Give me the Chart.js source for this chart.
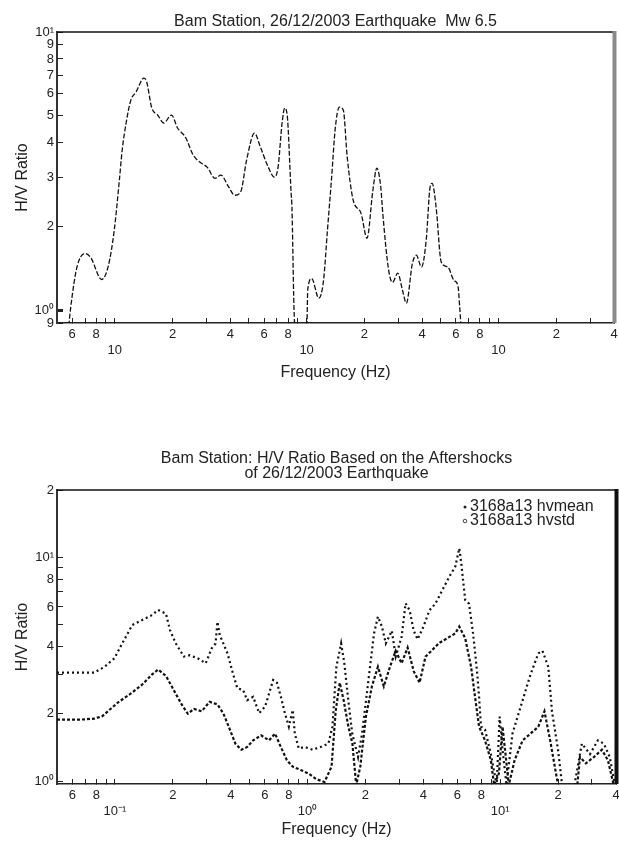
<!DOCTYPE html>
<html>
<head>
<meta charset="utf-8">
<script src="https://cdn.jsdelivr.net/npm/chart.js@4.4.1/dist/chart.umd.min.js"></script>
<style>
  html, body { margin: 0; padding: 0; background: #fff; }
  canvas { position: absolute; left: 0; }
  #topChart { top: 0; }
  #bottomChart { top: 420px; }
</style>
</head>
<body>
<canvas id="topChart" width="619" height="400"></canvas>
<canvas id="bottomChart" width="619" height="423"></canvas>
<script>
// main shock H/V curve (Hz, ratio)
const topFreq = [0.0576, 0.059, 0.0634, 0.0697, 0.0748, 0.0855, 0.0927, 0.0994, 0.1057, 0.1093,
    0.1146, 0.1213, 0.129, 0.142, 0.1467, 0.156, 0.1675, 0.18, 0.1977, 0.2123,
    0.2334, 0.2566, 0.282, 0.303, 0.333, 0.357, 0.393, 0.4217, 0.453, 0.4864,
    0.535, 0.574, 0.631, 0.678, 0.71, 0.745, 0.769, 0.792, 0.83, 0.8385,
    0.859, 0.871, 0.936, 1.004, 1.013, 1.063, 1.157, 1.225, 1.284, 1.347,
    1.412, 1.481, 1.553, 1.628, 1.748, 1.922, 2.064, 2.215, 2.323, 2.435,
    2.494, 2.677, 2.807, 2.985, 3.16, 3.31, 3.56, 3.73, 3.97, 4.2,
    4.4, 4.51, 4.73, 5.03, 5.45, 5.86, 6.14, 6.28, 6.37];
const topRatio = [0.88, 1.03, 1.42, 1.6, 1.55, 1.29, 1.45, 1.94, 2.94, 3.76,
    4.71, 5.69, 6.08, 6.83, 6.61, 5.33, 5.03, 4.71, 5.03, 4.52,
    4.19, 3.61, 3.38, 3.27, 2.98, 3.06, 2.77, 2.59, 2.66, 3.46,
    4.33, 3.86, 3.27, 3.01, 3.27, 4.71, 5.33, 5.03, 2.64, 2.35,
    1.025, 0.85, 0.8, 0.9, 1.18, 1.3, 1.105, 1.28, 1.94, 2.94,
    4.55, 5.37, 5.24, 3.55, 2.49, 2.23, 1.815, 2.7, 3.24, 2.77,
    2.23, 1.39, 1.26, 1.36, 1.18, 1.06, 1.476, 1.577, 1.43, 1.786,
    2.77, 2.86, 2.35, 1.49, 1.43, 1.28, 1.23, 1.025, 0.88];

// aftershocks: hvmean (lower curve)
const meanFreq = [0.05, 0.065, 0.078, 0.086, 0.0948, 0.104, 0.12, 0.1386, 0.156, 0.1675,
    0.184, 0.202, 0.222, 0.239, 0.257, 0.282, 0.31, 0.341, 0.366, 0.393,
    0.422, 0.453, 0.486, 0.522, 0.574, 0.631, 0.678, 0.727, 0.781, 0.838,
    0.922, 1.013, 1.11, 1.225, 1.333, 1.4, 1.47, 1.54, 1.63, 1.71,
    1.79, 1.88, 2.01, 2.16, 2.32, 2.49, 2.68, 2.87, 3.08, 3.31,
    3.56, 3.82, 4.1, 4.4, 4.84, 5.32, 5.85, 6.14, 6.59, 7.07,
    7.41, 7.78, 8.35, 8.96, 9.31, 9.86, 10.3, 11.1, 11.9, 13.1,
    14.4, 15.8, 17.0, 18.2, 20.0, 21.5, 25.0, 26.0, 27.9, 30.7,
    33.8, 36.3, 38.9];
const meanRatio = [1.88, 1.88, 1.9, 1.95, 2.1, 2.25, 2.45, 2.7, 3.0, 3.15,
    2.95, 2.55, 2.2, 2.0, 2.1, 2.05, 2.26, 2.2, 2.0, 1.72,
    1.47, 1.38, 1.42, 1.52, 1.6, 1.52, 1.63, 1.42, 1.24, 1.16,
    1.12, 1.08, 1.02, 0.99, 1.16, 2.05, 2.75, 2.3, 1.75, 1.47,
    0.96, 1.16, 1.94, 2.65, 3.24, 2.65, 3.24, 3.82, 3.36, 3.95,
    3.1, 2.75, 3.6, 3.82, 4.15, 4.35, 4.57, 4.9, 4.35, 3.24,
    2.38, 1.75, 1.52, 1.24, 0.96, 1.08, 1.75, 0.96, 1.24, 1.52,
    1.63, 1.75, 2.05, 1.52, 0.96, 0.9, 0.9, 1.28, 1.2, 1.28,
    1.38, 1.24, 0.96];

// aftershocks: hvstd (upper curve)
const stdFreq = [0.05, 0.065, 0.078, 0.0883, 0.0994, 0.109, 0.123, 0.1386, 0.156, 0.1675,
    0.184, 0.193, 0.207, 0.228, 0.245, 0.269, 0.296, 0.318, 0.333, 0.3406,
    0.35, 0.384, 0.412, 0.432, 0.463, 0.486, 0.522, 0.561, 0.602, 0.663,
    0.694, 0.727, 0.763, 0.8, 0.838, 0.859, 0.9, 0.966, 1.063, 1.168,
    1.284, 1.347, 1.412, 1.495, 1.553, 1.628, 1.707, 1.83, 1.92, 2.064,
    2.215, 2.32, 2.435, 2.55, 2.74, 2.87, 3.08, 3.23, 3.39, 3.56,
    3.73, 4.0, 4.3, 4.61, 5.45, 5.85, 6.14, 6.28, 6.59, 6.9,
    7.24, 7.59, 7.78, 7.96, 8.35, 8.96, 9.6, 9.95, 10.3, 10.8,
    11.6, 13.1, 14.4, 15.8, 16.6, 17.8, 18.6, 20.0, 21.0, 24.0,
    26.6, 29.3, 32.2, 34.6, 37.1, 39.5];
const stdRatio = [3.05, 3.05, 3.05, 3.24, 3.54, 4.12, 4.98, 5.25, 5.52, 5.82,
    5.6, 4.73, 4.12, 3.6, 3.65, 3.54, 3.36, 3.92, 4.12, 5.15,
    4.5, 3.72, 2.98, 2.6, 2.55, 2.3, 2.38, 2.01, 2.15, 2.83,
    2.75, 2.38, 2.01, 1.75, 2.08, 1.63, 1.4, 1.42, 1.38, 1.42,
    1.47, 1.75, 3.24, 4.12, 3.36, 2.3, 1.63, 1.28, 1.63, 2.75,
    4.57, 5.43, 4.9, 4.12, 4.7, 3.6, 4.4, 6.23, 5.8, 4.7,
    4.3, 4.9, 5.8, 6.2, 8.2, 9.08, 10.97, 9.5, 6.45, 6.2,
    4.57, 3.1, 2.38, 1.75, 1.7, 1.32, 0.96, 1.94, 1.38, 0.96,
    1.63, 2.3, 3.0, 3.72, 3.82, 3.24, 2.05, 1.38, 0.96, 0.9,
    1.47, 1.32, 1.52, 1.47, 1.28, 0.96];

// axis ticks
const xTickValues = [0.06, 0.07, 0.08, 0.09, 0.1, 0.2, 0.3, 0.4, 0.5, 0.6, 0.7, 0.8, 0.9,
    1, 2, 3, 4, 5, 6, 7, 8, 9, 10, 20, 30, 40];
const xTickLabelsTop = ['6', '', '8', '', ['', '10'], '2', '', '4', '', '6', '', '8', '',
    ['', '10'], '2', '', '4', '', '6', '', '8', '', ['', '10'], '2', '', '4'];
const xTickLabelsBottom = ['6', '', '8', '', ['', '10\u207B\u00B9'], '2', '', '4', '', '6', '', '8', '',
    ['', '10\u2070'], '2', '', '4', '', '6', '', '8', '', ['', '10\u00B9'], '2', '', '4'];
const yTickValuesTop = [0.9, 1, 2, 3, 4, 5, 6, 7, 8, 9, 10];
const yTickLabelsTop = ['9', '10\u2070', '2', '3', '4', '5', '6', '7', '8', '9', '10\u00B9'];
const yTickValuesBottom = [1, 2, 3, 4, 5, 6, 7, 8, 9, 10, 20];
const yTickLabelsBottom = ['10\u2070', '2', '', '4', '', '6', '', '8', '', '10\u00B9', '2'];

Chart.defaults.font.family = '"Liberation Sans", Arial, sans-serif';
Chart.defaults.color = '#222';

function toPoints(xs, ys) {
    return xs.map((x, i) => ({ x: x, y: ys[i] }));
}

// top and right edges of the axes box
const framePlugin = {
    id: 'frame',
    afterDraw(chart, args, opts) {
        const { left, top, right, bottom } = chart.chartArea;
        const ctx = chart.ctx;
        ctx.save();
        ctx.strokeStyle = '#111';
        ctx.lineWidth = 1.5;
        ctx.beginPath();
        ctx.moveTo(left, top);
        ctx.lineTo(right, top);
        ctx.stroke();
        ctx.strokeStyle = opts.rightColor;
        ctx.lineWidth = opts.rightWidth;
        ctx.beginPath();
        ctx.moveTo(right + 0.5, top - 1);
        ctx.lineTo(right + 0.5, bottom);
        ctx.stroke();
        ctx.restore();
    }
};

// matlab style legend inside the axes
const boxLegend = {
    id: 'boxLegend',
    afterDraw(chart) {
        const { top, right } = chart.chartArea;
        const ctx = chart.ctx;
        ctx.save();
        ctx.font = '16px "Liberation Sans", Arial, sans-serif';
        ctx.textBaseline = 'middle';
        ctx.fillStyle = '#222';
        chart.data.datasets.forEach((ds, i) => {
            const y = top + 17 + i * 14;
            ctx.beginPath();
            ctx.arc(right - 151, y, i === 0 ? 1.5 : 1.8, 0, Math.PI * 2);
            if (i === 0) ctx.fill(); else { ctx.lineWidth = 1; ctx.strokeStyle = '#444'; ctx.stroke(); }
            ctx.fillText(ds.label, right - 146, y);
        });
        ctx.restore();
    }
};

function xAxis(labels, height, titlePad) {
    return {
        type: 'logarithmic',
        position: 'bottom',
        min: 0.05,
        max: 40,
        afterBuildTicks: s => { s.ticks = xTickValues.map(v => ({ value: v })); },
        afterFit: s => { s.height = height; s.paddingLeft = 0; s.paddingRight = 0; },
        ticks: {
            autoSkip: false, maxRotation: 0, minRotation: 0, padding: 9,
            font: { size: 13 }, color: '#222',
            callback: (v, i) => labels[i]
        },
        grid: { drawOnChartArea: false, tickLength: -5, color: '#222' },
        border: { color: '#222', width: 1.5 },
        title: {
            display: true, text: 'Frequency (Hz)', color: '#222',
            font: { size: 16 }, padding: { top: 0, bottom: titlePad }
        }
    };
}

function yAxis(min, max, values, labels, thickOne) {
    return {
        type: 'logarithmic',
        position: 'left',
        min: min,
        max: max,
        afterBuildTicks: s => { s.ticks = values.map(v => ({ value: v })); },
        afterFit: s => { s.width = 57; s.paddingTop = 0; s.paddingBottom = 0; },
        ticks: {
            autoSkip: false, padding: 9, font: { size: 13 }, color: '#222',
            callback: (v, i) => labels[i]
        },
        grid: {
            drawOnChartArea: false, tickLength: -6, color: '#222',
            lineWidth: c => (thickOne && c.tick && c.tick.value === 1 ? 3 : 1)
        },
        border: { color: '#333', width: 2 },
        title: {
            display: true, text: 'H/V Ratio', color: '#222',
            font: { size: 16 }, padding: { top: 13, bottom: 0 }
        }
    };
}

new Chart(document.getElementById('topChart').getContext('2d'), {
    type: 'line',
    data: {
        datasets: [{
            label: 'H/V Ratio',
            data: toPoints(topFreq, topRatio),
            borderColor: '#111',
            borderWidth: 1.3,
            borderDash: [5, 2],
            pointRadius: 0,
            cubicInterpolationMode: 'monotone',
            fill: false
        }]
    },
    options: {
        responsive: false,
        animation: false,
        layout: { padding: { left: 0, right: 5, top: 0, bottom: 0 } },
        scales: {
            x: xAxis(xTickLabelsTop, 77, 18),
            y: yAxis(0.9, 10, yTickValuesTop, yTickLabelsTop, true)
        },
        plugins: {
            legend: { display: false },
            tooltip: { enabled: false },
            title: {
                display: true,
                fullSize: false,
                text: 'Bam Station, 26/12/2003 Earthquake  Mw 6.5',
                color: '#222',
                font: { size: 16, weight: 'normal', lineHeight: '15px' },
                padding: { top: 14.5, bottom: 2.5 }
            },
            frame: { rightColor: '#8a8a8a', rightWidth: 4 }
        }
    },
    plugins: [framePlugin]
});

new Chart(document.getElementById('bottomChart').getContext('2d'), {
    type: 'line',
    data: {
        datasets: [
            {
                label: '3168a13 hvmean',
                data: toPoints(meanFreq, meanRatio),
                borderColor: '#111',
                borderWidth: 2.2,
                borderDash: [3, 2],
                pointRadius: 0,
                tension: 0,
                fill: false
            },
            {
                label: '3168a13 hvstd',
                data: toPoints(stdFreq, stdRatio),
                borderColor: '#111',
                borderWidth: 2.2,
                borderDash: [2, 3],
                pointRadius: 0,
                tension: 0,
                fill: false
            }
        ]
    },
    options: {
        responsive: false,
        animation: false,
        layout: { padding: { left: 0, right: 3, top: 0, bottom: 0 } },
        scales: {
            x: xAxis(xTickLabelsBottom, 59, 4),
            y: yAxis(0.97, 20, yTickValuesBottom, yTickLabelsBottom, false)
        },
        plugins: {
            legend: { display: false },
            tooltip: { enabled: false },
            title: {
                display: true,
                fullSize: false,
                text: ['Bam Station: H/V Ratio Based on the Aftershocks', 'of 26/12/2003 Earthquake'],
                color: '#222',
                font: { size: 16, weight: 'normal', lineHeight: '15px' },
                padding: { top: 31.5, bottom: 8.5 }
            },
            frame: { rightColor: '#111', rightWidth: 4 }
        }
    },
    plugins: [framePlugin, boxLegend]
});
</script>
</body>
</html>
